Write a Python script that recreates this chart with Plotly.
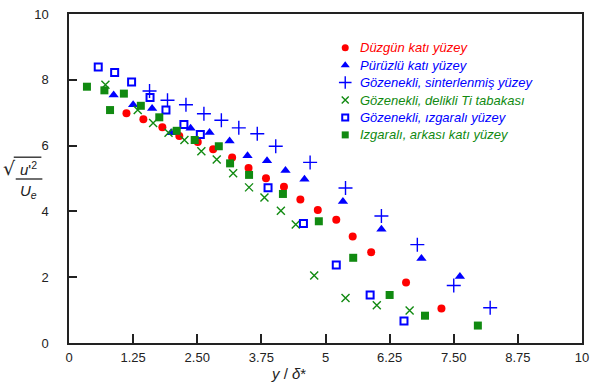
import plotly.graph_objects as go

# ---------------- data ----------------
names = ["Düzgün katı yüzey", "Pürüzlü katı yüzey", "Gözenekli, sinterlenmiş yüzey",
         "Gözenekli, delikli Ti tabakası", "Gözenekli, ızgaralı yüzey", "Izgaralı, arkası katı yüzey"]

duz_x = [1.12, 1.45, 1.82, 2.15, 2.51, 2.81, 3.18, 3.50, 3.84, 4.19, 4.51, 4.85, 5.21, 5.53, 5.89, 6.57, 7.26]
duz_y = [6.98, 6.80, 6.56, 6.29, 6.11, 5.89, 5.64, 5.32, 5.01, 4.75, 4.36, 4.04, 3.75, 3.24, 2.76, 1.84, 1.05]

pur_x = [0.87, 1.25, 1.62, 1.99, 2.37, 2.74, 3.13, 3.48, 3.86, 4.22, 4.59, 5.34, 6.09, 6.87, 7.62]
pur_y = [7.54, 7.24, 7.13, 6.39, 6.53, 6.40, 6.14, 5.69, 5.54, 5.24, 4.98, 4.30, 3.46, 2.57, 2.02]

sin_x = [1.57, 1.92, 2.28, 2.63, 2.97, 3.31, 3.67, 4.03, 4.70, 5.39, 6.09, 6.79, 7.50, 8.21]
sin_y = [7.66, 7.38, 7.24, 6.97, 6.77, 6.54, 6.36, 5.98, 5.49, 4.71, 3.86, 2.99, 1.75, 1.07]

ti_x = [0.71, 1.34, 1.64, 1.94, 2.25, 2.58, 2.88, 3.20, 3.51, 3.81, 4.13, 4.42, 4.78, 5.39, 6.00, 6.64]
ti_y = [7.85, 7.08, 6.69, 6.39, 6.17, 5.83, 5.58, 5.16, 4.73, 4.42, 4.02, 3.60, 2.05, 1.37, 1.15, 0.99]

izg_x = [0.57, 0.89, 1.22, 1.58, 1.89, 2.24, 2.56, 3.88, 4.57, 5.21, 5.87, 6.53]
izg_y = [8.39, 8.22, 7.93, 7.46, 7.08, 6.64, 6.34, 4.72, 3.63, 2.37, 1.46, 0.67]

ark_x = [0.35, 0.69, 0.80, 1.07, 1.40, 1.76, 2.10, 2.45, 2.92, 3.14, 3.51, 4.17, 4.87, 5.54, 6.25, 6.94, 7.97]
ark_y = [7.79, 7.68, 7.08, 7.58, 7.21, 6.86, 6.45, 6.17, 5.98, 5.46, 5.11, 4.53, 3.70, 2.59, 1.46, 0.83, 0.53]

x_ticks = [0, 1.25, 2.5, 3.75, 5, 6.25, 7.5, 8.75, 10]
x_ticktext = ["0", "1.25", "2.50", "3.75", "5", "6.25", "7.50", "8.75", "10"]
y_ticks = [0, 2, 4, 6, 8, 10]

RED, BLUE, GREEN = "#ff0000", "#0000ff", "#118a11"
colors = [RED, BLUE, BLUE, GREEN, BLUE, GREEN]
symbols = ["circle", "triangle-up", "cross-thin", "x-thin", "square-open", "square"]
sizes = [8, 9, 10, 8, 7, 8]
lwidths = [0, 0, 1.4, 1.4, 2, 0]
series = [(duz_x, duz_y), (pur_x, pur_y), (sin_x, sin_y), (ti_x, ti_y), (izg_x, izg_y), (ark_x, ark_y)]

# ---------------- figure ----------------
W, H = 596, 387
L, R, T, B = 69, 589, 11, 343

fig = go.Figure()
for (xs, ys), nm, c, s, sz, lw in zip(series, names, colors, symbols, sizes, lwidths):
    fig.add_trace(go.Scatter(
        x=xs, y=ys, mode="markers", name=nm, showlegend=False,
        marker=dict(symbol=s, size=sz, color=c, line=dict(color=c, width=lw))))

# legend on an overlay axis in pixel units
leg_x_marker, leg_x_text = 349, 362
leg_y = [45, 62.6, 80.2, 97.8, 115.4, 133]
leg_sizes = [7, 8, 9, 7, 6, 7]
for i in range(6):
    fig.add_trace(go.Scatter(
        x=[leg_x_marker], y=[leg_y[i]], mode="markers", xaxis="x2", yaxis="y2",
        showlegend=False, hoverinfo="skip",
        marker=dict(symbol=symbols[i], size=leg_sizes[i], color=colors[i],
                    line=dict(color=colors[i], width=lwidths[i]))))
    fig.add_annotation(x=leg_x_text, y=leg_y[i], xref="x2", yref="y2", text="<i>%s</i>" % names[i],
                       showarrow=False, xanchor="left", yanchor="middle",
                       font=dict(size=13, color=colors[i], family="Liberation Sans, Arial"))

axis_common = dict(showline=True, linewidth=1.5, linecolor="#222", mirror=True,
                   ticks="inside", tickwidth=1.5, tickcolor="#222", showgrid=False, zeroline=False,
                   tickfont=dict(size=13, color="#222", family="Liberation Sans, Arial"))

fig.update_layout(
    width=W, height=H, margin=dict(l=L, r=W - R, t=T, b=H - B),
    paper_bgcolor="white", plot_bgcolor="white",
    xaxis=dict(range=[0, 10], tickvals=x_ticks, ticktext=x_ticktext, ticklen=9,
               ticklabelstandoff=2, **axis_common),
    yaxis=dict(range=[0, 10], tickvals=y_ticks, ticklen=8, ticklabelstandoff=16, **axis_common),
    xaxis2=dict(range=[L, R], overlaying="x", visible=False, domain=[0, 1]),
    yaxis2=dict(range=[B, T], overlaying="y", visible=False, domain=[0, 1]),
    showlegend=False,
)

def px(xp):
    return (xp - L) / (R - L)

def py(yp):
    return (B - yp) / (B - T)

# x axis title
fig.add_annotation(x=px(292), y=py(374), xref="paper", yref="paper", text="<i>y</i> / <i>δ</i>*",
                   showarrow=False, xanchor="center", yanchor="middle",
                   font=dict(size=15, color="#222", family="Liberation Sans, Arial"))

# y axis title: sqrt(u'^2)/U_e
lab_font = dict(size=15, color="#222", family="Liberation Sans, Arial")
fig.add_annotation(x=px(9), y=py(166), xref="paper", yref="paper", text="√",
                   showarrow=False, xanchor="center", yanchor="middle",
                   font=dict(size=19, color="#222", family="DejaVu Sans"))
fig.add_annotation(x=px(28), y=py(167), xref="paper", yref="paper", text="<i>u</i>'<sup>2</sup>",
                   showarrow=False, xanchor="center", yanchor="middle", font=lab_font)
fig.add_shape(type="line", xref="paper", yref="paper", x0=px(13), x1=px(41), y0=py(155.5), y1=py(155.5),
              line=dict(color="#222", width=1.3))
fig.add_shape(type="line", xref="paper", yref="paper", x0=px(15), x1=px(42), y0=py(177.5), y1=py(177.5),
              line=dict(color="#222", width=1.3))
fig.add_annotation(x=px(28), y=py(190), xref="paper", yref="paper", text="<i>U</i><sub><i>e</i></sub>",
                   showarrow=False, xanchor="center", yanchor="middle", font=lab_font)

fig.write_html("out.html")
